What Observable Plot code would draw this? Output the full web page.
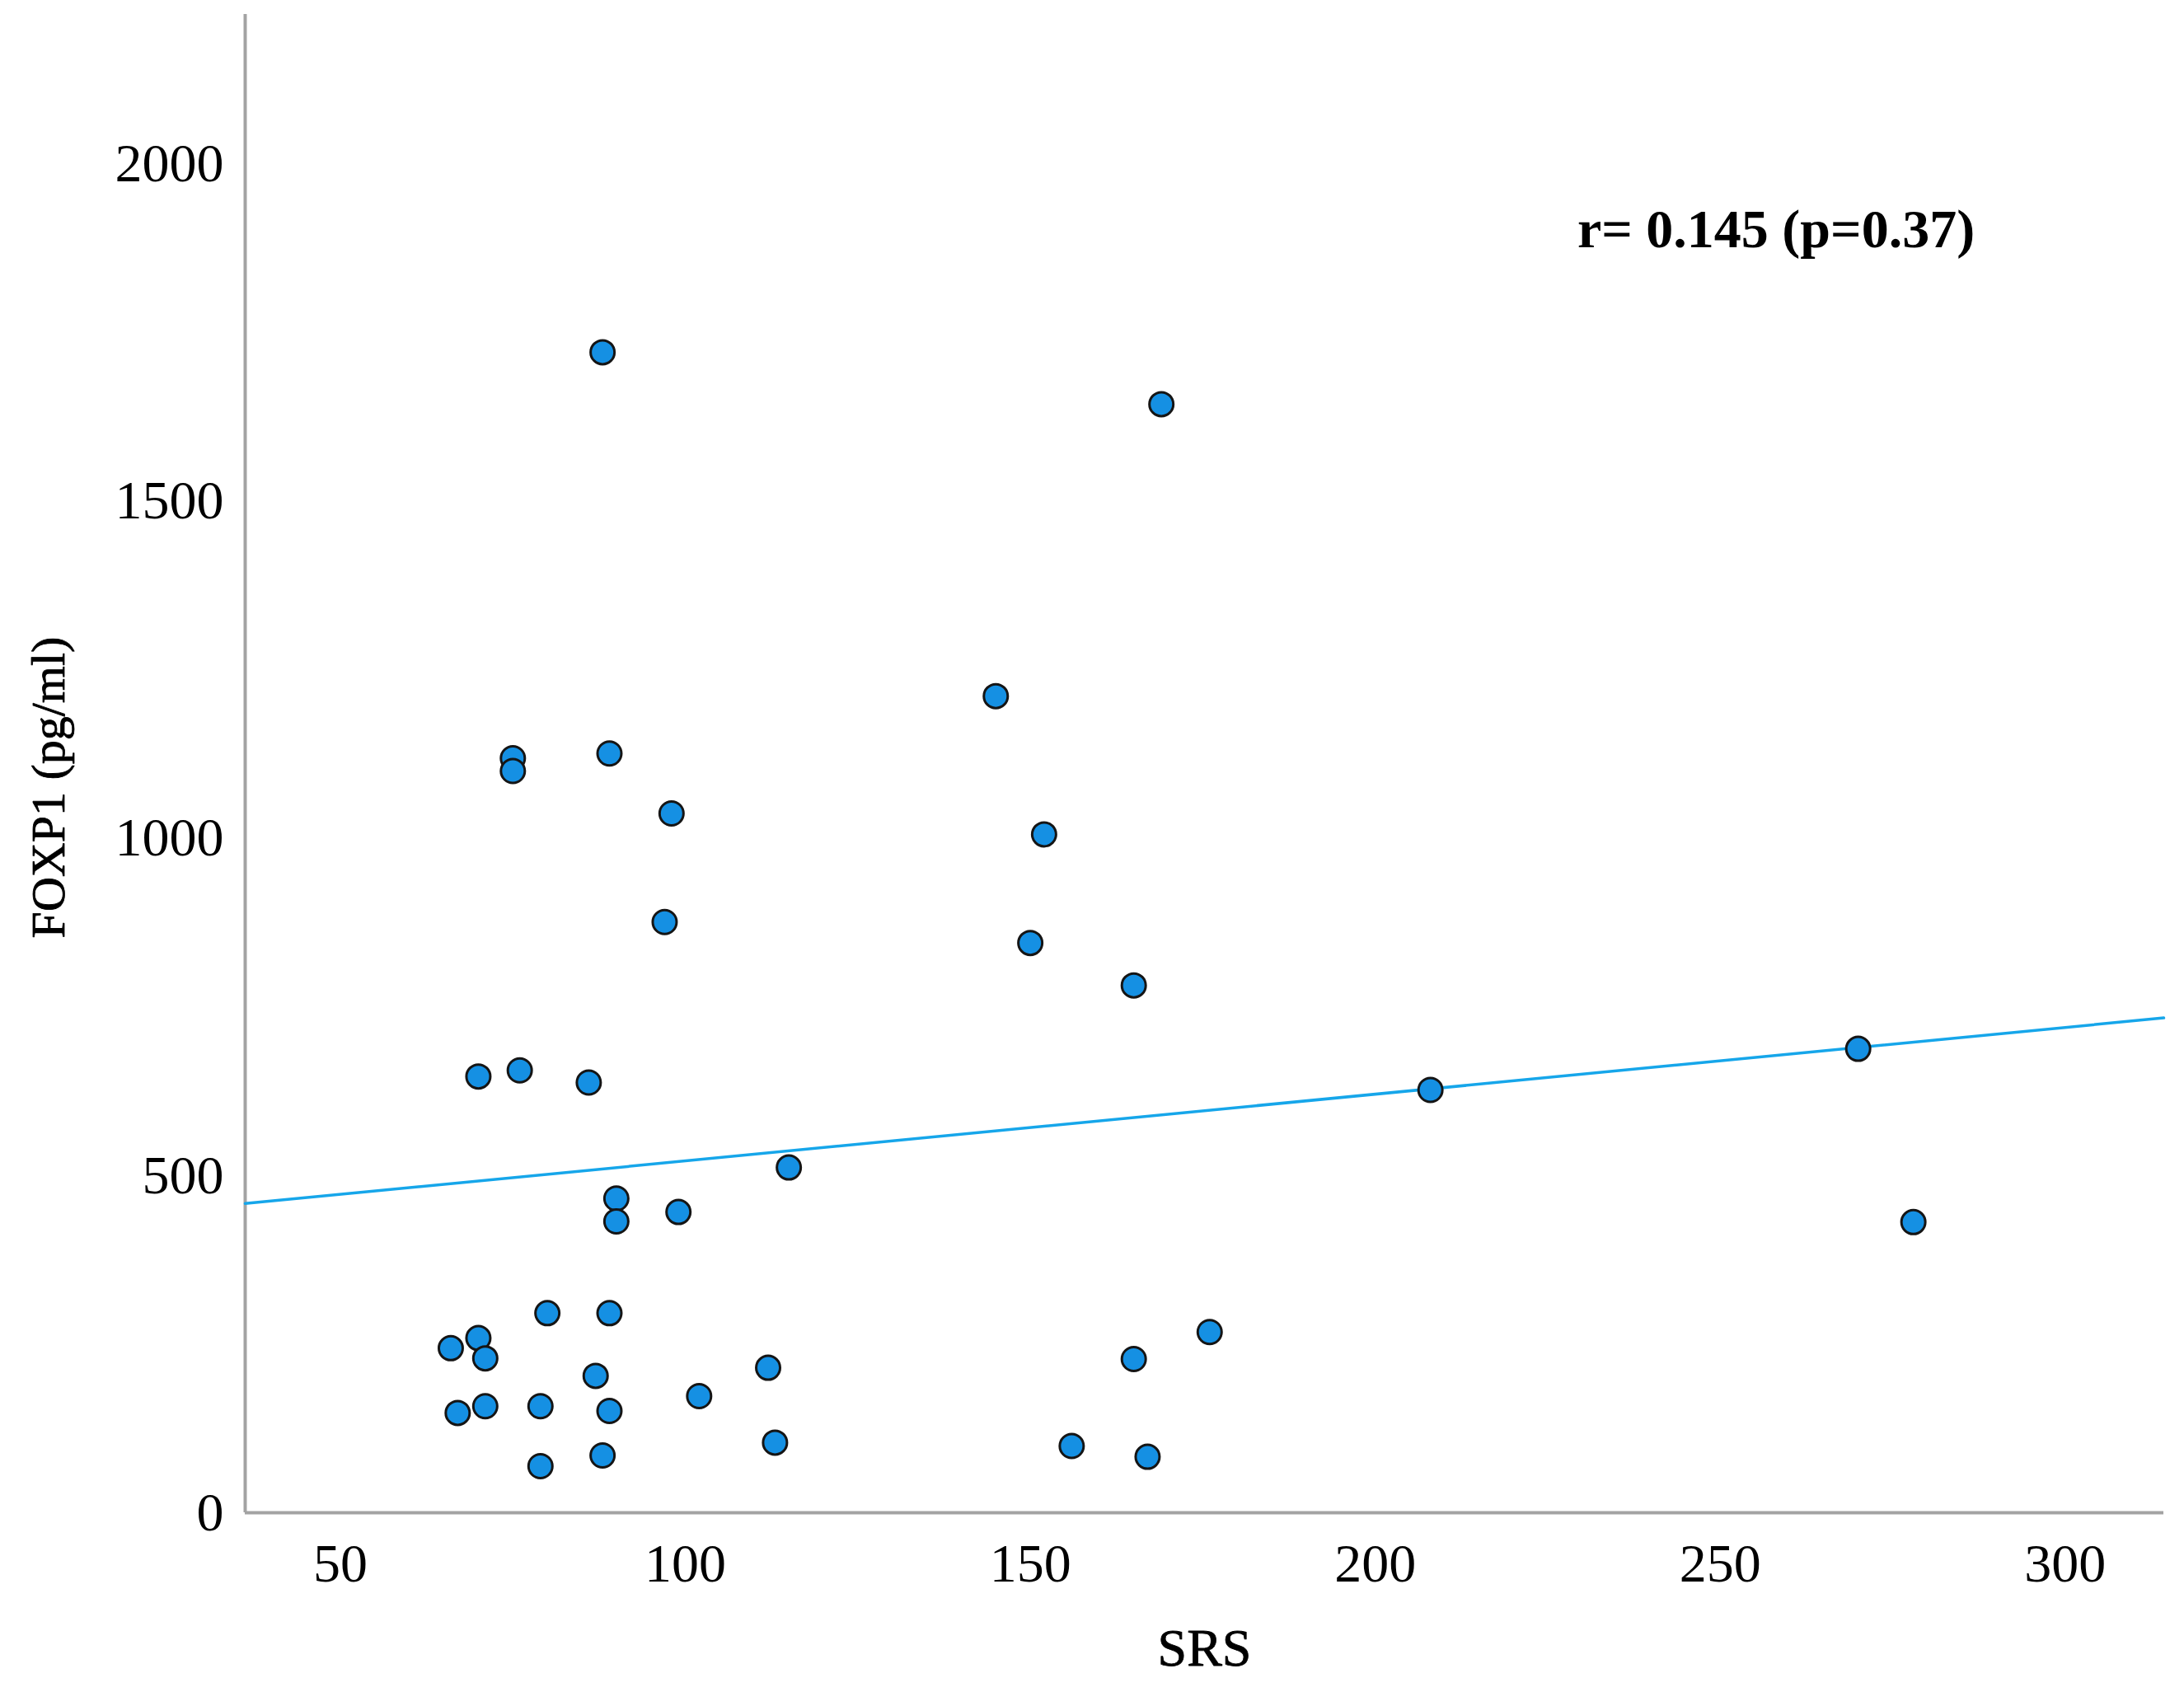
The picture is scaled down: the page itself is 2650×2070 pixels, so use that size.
<!DOCTYPE html>
<html>
<head>
<meta charset="utf-8">
<script src="https://cdn.jsdelivr.net/npm/d3@7"></script>
<script src="https://cdn.jsdelivr.net/npm/@observablehq/plot@0.6"></script>
<style>
  html, body { margin: 0; padding: 0; background: #fff; }
  #chart svg { display: block; }
</style>
</head>
<body>
<div id="chart"></div>
<script>
// SRS score (x) and FOXP1 concentration in pg/ml (y)
const srs = [66, 70, 71, 80, 89, 87, 67, 71, 79, 89, 79, 88, 102, 112, 113,
             70, 76, 86, 90, 90, 99, 115,
             88, 75, 75, 89, 98, 97,
             169, 145, 152, 150, 165, 176, 165, 156, 167,
             208, 270, 278];
const foxp1 = [244, 259, 229, 296, 296, 203, 148, 158, 158, 151, 69, 85, 173, 215, 104,
               647, 656, 638, 466, 432, 446, 512,
               1721, 1119, 1100, 1126, 1037, 876,
               1644, 1211, 1006, 845, 782, 268, 228, 99, 83,
               627, 688, 431];
const xTicks = [50, 100, 150, 200, 250, 300];
const yTicks = [0, 500, 1000, 1500, 2000];
const xDomain = [36.2, 314.3];
const yDomain = [0, 2222];
const xTitle = "SRS";
const yTitle = "FOXP1 (pg/ml)";
const annotation = "r= 0.145 (p=0.37)";

const points = srs.map((s, i) => ({srs: s, foxp1: foxp1[i]}));

// least-squares fit of the data, drawn across the whole x range (as in SPSS)
const mx = d3.mean(srs), my = d3.mean(foxp1);
const sxy = d3.sum(points, d => (d.srs - mx) * (d.foxp1 - my));
const sxx = d3.sum(points, d => (d.srs - mx) ** 2);
const slope = sxy / sxx, intercept = my - slope * mx;
const fit = xDomain.map(x => ({srs: x, foxp1: intercept + slope * x}));

const font = "'Liberation Serif', 'Times New Roman', serif";
const fmt = d => String(d);

const chart = Plot.plot({
  width: 2650,
  height: 2070,
  marginLeft: 297,
  marginRight: 25,
  marginTop: 17,
  marginBottom: 235,
  style: {fontFamily: font, fontSize: "66px", color: "#000", background: "#fff"},
  x: {domain: xDomain, ticks: xTicks, tickFormat: fmt},
  y: {domain: yDomain, ticks: yTicks, tickFormat: fmt},
  marks: [
    Plot.axisX({ticks: xTicks, tickFormat: fmt, tickSize: 0, tickPadding: 37, label: null, fontSize: 66, stroke: "#000", strokeWidth: 0.8}),
    Plot.axisY({ticks: yTicks, tickFormat: fmt, tickSize: 0, tickPadding: 26, label: null, fontSize: 66, stroke: "#000", strokeWidth: 0.8}),
    Plot.ruleX([xDomain[0]], {stroke: "#a3a3a3", strokeWidth: 4}),
    Plot.ruleY([yDomain[0]], {stroke: "#a3a3a3", strokeWidth: 4}),
    Plot.line(fit, {x: "srs", y: "foxp1", stroke: "#16a6ea", strokeWidth: 3.5}),
    Plot.dot(points, {x: "srs", y: "foxp1", r: 14.5, fill: "#1590e3", stroke: "#151515", strokeWidth: 3}),
    Plot.text([annotation], {x: 229.3, y: 1902, textAnchor: "start", fontWeight: "bold", fontSize: 66, fill: "#000"}),
    Plot.text([xTitle], {frameAnchor: "bottom", dy: 185, fontSize: 64, fill: "#000", stroke: "#000", strokeWidth: 0.8}),
    Plot.text([yTitle], {frameAnchor: "left", textAnchor: "middle", rotate: -90, dx: -238, dy: 29, fontSize: 58, fill: "#000", stroke: "#000", strokeWidth: 0.8})
  ]
});
document.getElementById("chart").appendChild(chart);
</script>
</body>
</html>
